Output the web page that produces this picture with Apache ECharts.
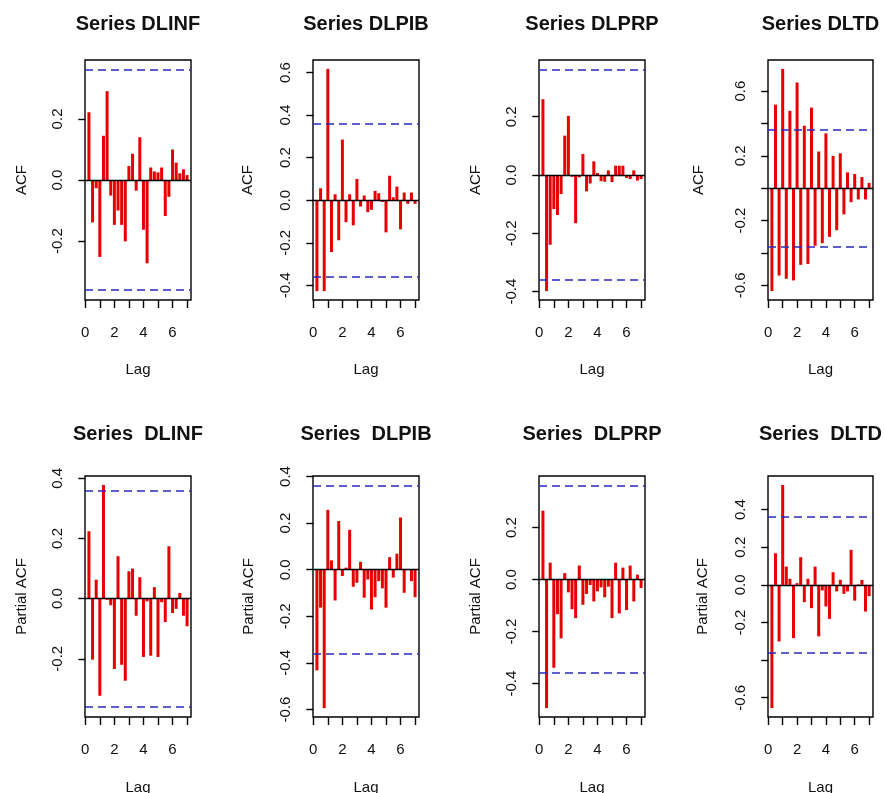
<!DOCTYPE html>
<html><head><meta charset="utf-8">
<script src="https://cdn.jsdelivr.net/npm/echarts@6/dist/echarts.min.js"></script>
<style>html,body{margin:0;padding:0;background:#fff}#c{width:885px;height:793px}</style>
</head><body><div id="c"></div>
<script>
// Lags (years, quarterly data)
const lags = [0.25,0.5,0.75,1,1.25,1.5,1.75,2,2.25,2.5,2.75,3,3.25,3.5,3.75,4,4.25,4.5,4.75,5,5.25,5.5,5.75,6,6.25,6.5,6.75,7];

const acfDLINF = [0.222,-0.139,-0.027,-0.252,0.145,0.291,-0.051,-0.147,-0.10,-0.147,-0.201,0.046,0.086,-0.035,0.14,-0.163,-0.273,0.041,0.028,0.025,0.041,-0.118,-0.055,0.10,0.057,0.022,0.035,0.016];
const acfDLPIB = [-0.427,0.056,-0.427,0.617,-0.243,0.028,-0.188,0.285,-0.103,0.028,-0.118,0.10,-0.03,0.022,-0.056,-0.045,0.044,0.033,-0.008,-0.151,0.115,0.014,0.064,-0.137,0.036,-0.017,0.036,-0.017];
const acfDLPRP = [0.26,-0.398,-0.239,-0.117,-0.137,-0.065,0.135,0.203,-0.006,-0.165,-0.008,0.072,-0.056,-0.029,0.047,0.007,-0.021,-0.023,0.016,-0.024,0.032,0.032,0.032,-0.01,-0.014,0.016,-0.019,-0.014];
const acfDLTD = [-0.635,0.516,-0.539,0.737,-0.559,0.478,-0.569,0.653,-0.473,0.386,-0.467,0.498,-0.355,0.227,-0.339,0.339,-0.30,0.20,-0.259,0.216,-0.161,0.098,-0.086,0.088,-0.069,0.069,-0.069,0.033];

const pacfDLINF = [0.224,-0.203,0.063,-0.323,0.378,-0.004,-0.022,-0.234,0.141,-0.22,-0.273,0.091,0.10,-0.057,0.071,-0.194,-0.009,-0.19,0.038,-0.194,-0.012,-0.078,0.174,-0.048,-0.034,0.019,-0.057,-0.092];
const pacfDLPIB = [-0.432,-0.163,-0.594,0.257,0.04,-0.132,0.209,-0.027,0.009,0.171,-0.073,-0.056,0.034,-0.12,-0.042,-0.171,-0.118,-0.049,-0.08,-0.163,0.054,-0.034,0.069,0.224,-0.099,0.002,-0.049,-0.118];
const pacfDLPRP = [0.265,-0.494,0.065,-0.339,-0.133,-0.226,0.025,-0.049,-0.114,-0.148,0.054,-0.097,-0.055,-0.021,-0.084,-0.045,-0.03,-0.068,-0.027,-0.148,0.065,-0.13,0.046,-0.117,0.054,-0.084,0.019,-0.032];
const pacfDLTD = [-0.655,0.168,-0.301,0.531,0.097,0.032,-0.283,0.009,0.147,-0.092,0.032,-0.124,0.097,-0.274,-0.03,-0.115,-0.181,0.067,-0.035,0.027,-0.048,-0.035,0.186,-0.084,0.003,0.026,-0.142,-0.06];

// 95% confidence bound
const clim = 0.364;

// Axis ticks / labels
const xTicks = [0,1,2,3,4,5,6,7];
const xLabels = [0,2,4,6];
const yTicksList = [
  [-0.2,0,0.2], [-0.4,-0.2,0,0.2,0.4,0.6], [-0.4,-0.2,0,0.2], [-0.6,-0.4,-0.2,0,0.2,0.4,0.6],
  [-0.2,0,0.2,0.4], [-0.6,-0.4,-0.2,0,0.2,0.4], [-0.4,-0.2,0,0.2], [-0.6,-0.4,-0.2,0,0.2,0.4]
];
const yLabelsList = [
  [-0.2,0,0.2], [-0.4,-0.2,0,0.2,0.4,0.6], [-0.4,-0.2,0,0.2], [-0.6,-0.2,0.2,0.6],
  [-0.2,0,0.2,0.4], [-0.6,-0.4,-0.2,0,0.2,0.4], [-0.4,-0.2,0,0.2], [-0.6,-0.2,0,0.2,0.4]
];

const titles = ['Series DLINF','Series DLPIB','Series DLPRP','Series DLTD',
                'Series  DLINF','Series  DLPIB','Series  DLPRP','Series  DLTD'];
const yNames = ['ACF','ACF','ACF','ACF','Partial ACF','Partial ACF','Partial ACF','Partial ACF'];
const seriesData = [acfDLINF, acfDLPIB, acfDLPRP, acfDLTD, pacfDLINF, pacfDLPIB, pacfDLPRP, pacfDLTD];

// Layout (px)
const colLeft = [85, 313, 539, 768];
const colWidth = [106, 106, 106, 105];
const rowTop = [60, 476];
const rowHeight = [240, 241];
const titleTop = [14, 424];
const yNameGap = [56, 58, 56, 62, 56, 57, 56, 58];
const xNameGap = [62, 63];
const xLabelMargin = [25, 25];

const FONT = 'Liberation Sans, Arial, sans-serif';
const TXT = '#111';

function expand(lo, hi) { const d = hi - lo; return [lo - 0.04 * d, hi + 0.04 * d]; }

const option = { animation: false, backgroundColor: '#fff', title: [], grid: [], xAxis: [], yAxis: [], series: [] };

const xr = expand(Math.min(...lags), Math.max(...lags));

for (let i = 0; i < 8; i++) {
  const r = Math.floor(i / 4), c = i % 4;
  const vals = seriesData[i];
  const yr = expand(Math.min(-clim, ...vals), Math.max(clim, ...vals));
  option.grid.push({ left: colLeft[c], top: rowTop[r], width: colWidth[c], height: rowHeight[r],
    containLabel: false, outerBoundsMode: 'none',
    show: true, borderColor: '#000', borderWidth: 1.4, backgroundColor: 'transparent' });
  option.title.push({ text: titles[i], left: colLeft[c] + colWidth[c] / 2, top: titleTop[r], textAlign: 'center', padding: 0,
    textStyle: { fontFamily: FONT, fontWeight: 'bold', fontSize: 20, color: TXT } });
  option.xAxis.push({ type: 'value', gridIndex: i, min: xr[0], max: xr[1],
    name: 'Lag', nameLocation: 'middle', nameGap: xNameGap[r],
    nameTextStyle: { fontFamily: FONT, fontSize: 15, color: TXT },
    axisLine: { show: false, onZero: false },
    splitLine: { show: false },
    axisTick: { show: true, length: 8, customValues: xTicks, lineStyle: { color: '#000', width: 1.4 } },
    axisLabel: { customValues: xLabels, margin: xLabelMargin[r], fontFamily: FONT, fontSize: 15, color: TXT, formatter: v => String(v) } });
  option.yAxis.push({ type: 'value', gridIndex: i, min: yr[0], max: yr[1],
    name: yNames[i], nameLocation: 'middle', nameGap: yNameGap[i],
    nameTextStyle: { fontFamily: FONT, fontSize: 15, color: TXT },
    axisLine: { show: false },
    splitLine: { show: false },
    axisTick: { show: true, length: 7, customValues: yTicksList[i], lineStyle: { color: '#000', width: 1.4 } },
    axisLabel: { customValues: yLabelsList[i], rotate: 90, margin: 20, fontFamily: FONT, fontSize: 15, color: TXT,
      formatter: v => v.toFixed(1) } });
  option.series.push({ type: 'bar', xAxisIndex: i, yAxisIndex: i, barWidth: 3,
    itemStyle: { color: '#e80000' },
    data: lags.map((l, k) => [l, vals[k]]),
    markLine: { silent: true, symbol: ['none', 'none'], label: { show: false },
      data: [
        { yAxis: clim, lineStyle: { color: '#2a2ac0', type: [8, 5], width: 1.5 } },
        { yAxis: -clim, lineStyle: { color: '#2a2ac0', type: [8, 5], width: 1.5 } },
        { yAxis: 0, lineStyle: { color: '#000', type: 'solid', width: 1.4 } }
      ] } });
}

const chart = echarts.init(document.getElementById('c'), null, { renderer: 'canvas' });
chart.setOption(option);
</script></body></html>
